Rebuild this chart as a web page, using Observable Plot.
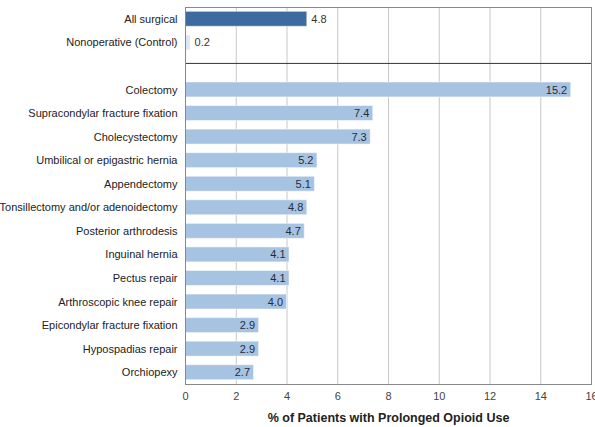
<!DOCTYPE html>
<html>
<head>
<meta charset="utf-8">
<script src="https://cdn.jsdelivr.net/npm/d3@7"></script>
<script src="https://cdn.jsdelivr.net/npm/@observablehq/plot@0.6"></script>
<style>
  html, body { margin: 0; padding: 0; background: #fff; }
  #chart svg { display: block; }
</style>
</head>
<body>
<div id="chart"></div>
<script>
const summaryCategories = ["All surgical", "Nonoperative (Control)"];
const summaryValues = [4.8, 0.2];
const procedureCategories = [
  "Colectomy", "Supracondylar fracture fixation", "Cholecystectomy",
  "Umbilical or epigastric hernia", "Appendectomy", "Tonsillectomy and/or adenoidectomy",
  "Posterior arthrodesis", "Inguinal hernia", "Pectus repair", "Arthroscopic knee repair",
  "Epicondylar fracture fixation", "Hypospadias repair", "Orchiopexy"
];
const procedureValues = [15.2, 7.4, 7.3, 5.2, 5.1, 4.8, 4.7, 4.1, 4.1, 4.0, 2.9, 2.9, 2.7];
const xTicks = [0, 2, 4, 6, 8, 10, 12, 14, 16];
const spacer = " ";

const summary = summaryCategories.map((c, i) => ({category: c, value: summaryValues[i], kind: i === 0 ? "all" : "control"}));
const procedures = procedureCategories.map((c, i) => ({category: c, value: procedureValues[i], kind: "proc"}));
const domain = [...summaryCategories, spacer, ...procedureCategories];
const fills = {all: "#3d6b9f", control: "#dde7f3", proc: "#a7c3e2"};
const font = "'Liberation Sans', Arial, sans-serif";

const chart = Plot.plot({
  width: 595,
  height: 427,
  marginLeft: 185,
  marginRight: 4,
  marginTop: 7,
  marginBottom: 43,
  style: {fontSize: "11px", fontFamily: font, color: "#222"},
  x: {domain: [0, 16], ticks: xTicks, tickFormat: d => d, label: null},
  y: {domain, padding: 0, round: false, label: null},
  marks: [
    Plot.gridX(xTicks, {stroke: "#c8c8c8", strokeOpacity: 1}),
    Plot.barX([...summary, ...procedures], {x: "value", y: "category", insetTop: 4.3, insetBottom: 4.3, fill: d => fills[d.kind], stroke: "#ffffff", strokeOpacity: 0.5}),
    Plot.text(summary, {x: "value", y: "category", text: d => d.value.toFixed(1), textAnchor: "start", dx: 4, fill: "#333", fontSize: 11, fontFamily: font}),
    Plot.text(procedures, {x: "value", y: "category", text: d => d.value.toFixed(1), textAnchor: "end", dx: -4, fill: "#1f2d40", fontSize: 11, fontFamily: font}),
    Plot.ruleY([spacer], {y: d => d, dy: -3, stroke: "#333", strokeWidth: 1}),
    Plot.frame({stroke: "#888"}),
    Plot.axisY({tickSize: 0, tickPadding: 8, fontSize: 11, fontFamily: font, fill: "#222"}),
    Plot.axisX({tickSize: 0, tickPadding: 8, fontSize: 11, fontFamily: font, fill: "#444", label: "% of Patients with Prolonged Opioid Use", labelAnchor: "center", labelArrow: "none", labelOffset: 37})
  ]
});
chart.querySelectorAll('[aria-label="x-axis label"] text').forEach(t => { t.setAttribute("font-weight", "bold"); t.setAttribute("font-size", "12.5"); t.setAttribute("fill", "#222"); });
document.getElementById("chart").appendChild(chart);
</script>
</body>
</html>
